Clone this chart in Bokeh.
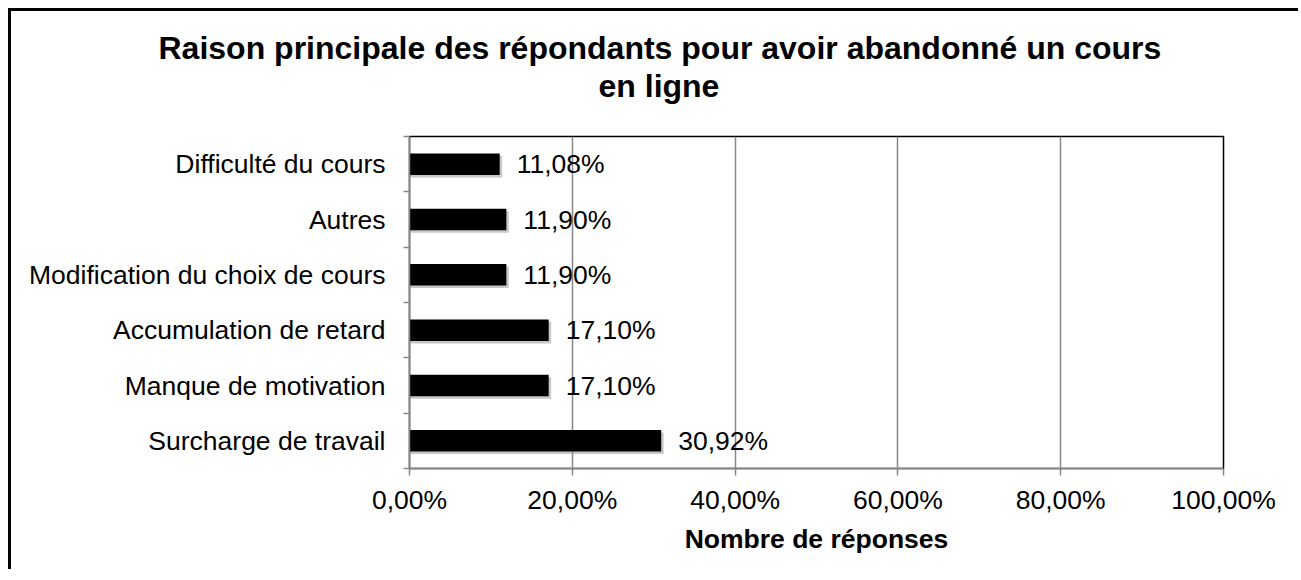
from bokeh.plotting import figure
from bokeh.models import FixedTicker, Title, ColumnDataSource
from bokeh.transform import dodge
from bokeh.embed import file_html
from bokeh.resources import INLINE
from bokeh.core.properties import value

# ---- data ----
categories = ["Surcharge de travail", "Manque de motivation", "Accumulation de retard",
              "Modification du choix de cours", "Autres", "Difficulté du cours"]
values = [30.92, 17.10, 17.10, 11.90, 11.90, 11.08]
value_labels = ["30,92%", "17,10%", "17,10%", "11,90%", "11,90%", "11,08%"]
x_ticks = [0, 20, 40, 60, 80, 100]
x_tick_labels = ["0,00%", "20,00%", "40,00%", "60,00%", "80,00%", "100,00%"]
title_lines = ["Raison principale des répondants pour avoir abandonné un cours", "en ligne"]
x_axis_title = "Nombre de réponses"

FONT = "Liberation Sans"
GRAY = "#878787"
FS = "26.5px"
TFS = "32px"

positions = [i + 0.5 for i in range(len(categories))]
boundaries = list(range(len(categories) + 1))

src = ColumnDataSource(dict(y=positions, v=values, lab=value_labels))

p = figure(width=1290, height=561, x_range=(0, 100), y_range=(0, len(categories)),
           output_backend="svg", toolbar_location=None,
           min_border_left=398, min_border_right=78, min_border_top=125, min_border_bottom=104)
p.styles = {"margin-left": "8px", "margin-top": "8px",
            "border-left": "3px solid black", "border-top": "3px solid black"}

p.outline_line_color = "black"
p.outline_line_width = 1.5
p.background_fill_color = "white"
p.border_fill_color = "white"

# shadow + bars
p.hbar(y=dodge("y", -0.045, range=p.y_range), left=0, right=dodge("v", 0.3, range=p.x_range),
       height=0.39, source=src, fill_color="#9a9a9a", fill_alpha=0.55, line_color=None)
p.hbar(y="y", left=0, right="v", height=0.39, source=src, fill_color="black", line_color=None)

p.text(x="v", y="y", text="lab", source=src, x_offset=17, text_baseline="middle",
       text_align="left", text_font=value(FONT), text_font_size=FS, text_color="black")

# x axis
p.xaxis.ticker = FixedTicker(ticks=x_ticks)
p.xaxis.major_label_overrides = dict(zip(x_ticks, x_tick_labels))
p.xaxis.major_tick_out = 7
p.xaxis.major_tick_in = 0
p.xaxis.minor_tick_out = 0
p.xaxis.minor_tick_in = 0
p.xaxis.axis_line_color = GRAY
p.xaxis.axis_line_width = 1.5
p.xaxis.major_tick_line_color = GRAY
p.xaxis.major_tick_line_width = 1.5
p.xaxis.major_label_text_font = FONT
p.xaxis.major_label_text_font_size = FS
p.xaxis.major_label_text_color = "black"
p.xaxis.major_label_standoff = 9
p.xaxis.axis_label = x_axis_title
p.xaxis.axis_label_text_font = FONT
p.xaxis.axis_label_text_font_size = FS
p.xaxis.axis_label_text_font_style = "bold"
p.xaxis.axis_label_text_color = "black"
p.xaxis.axis_label_standoff = 6

# y axis
p.yaxis.ticker = FixedTicker(ticks=positions, minor_ticks=boundaries)
p.yaxis.major_label_overrides = dict(zip(positions, categories))
p.yaxis.major_tick_out = 0
p.yaxis.major_tick_in = 0
p.yaxis.minor_tick_out = 6
p.yaxis.minor_tick_in = 0
p.yaxis.minor_tick_line_color = GRAY
p.yaxis.minor_tick_line_width = 1.5
p.yaxis.axis_line_color = GRAY
p.yaxis.axis_line_width = 1.5
p.yaxis.major_label_text_font = FONT
p.yaxis.major_label_text_font_size = FS
p.yaxis.major_label_text_color = "black"
p.yaxis.major_label_standoff = 18

# grid
p.xgrid.ticker = FixedTicker(ticks=x_ticks)
p.xgrid.grid_line_color = GRAY
p.xgrid.grid_line_width = 1.5
p.ygrid.grid_line_color = None

# title: spacer next to the frame, then line 2, then line 1 (stacked outward)
spacer = Title(text=" ", text_font_size="1px", standoff=30, text_color="white")
t2 = Title(text=title_lines[1], align="left", offset=189, standoff=0, text_font=FONT,
           text_font_size=TFS, text_font_style="bold", text_color="black")
t1 = Title(text=title_lines[0], align="left", offset=-251, standoff=0, text_font=FONT,
           text_font_size=TFS, text_font_style="bold", text_color="black")
p.add_layout(spacer, "above")
p.add_layout(t2, "above")
p.add_layout(t1, "above")

open("out.html", "w").write(file_html(p, INLINE))
